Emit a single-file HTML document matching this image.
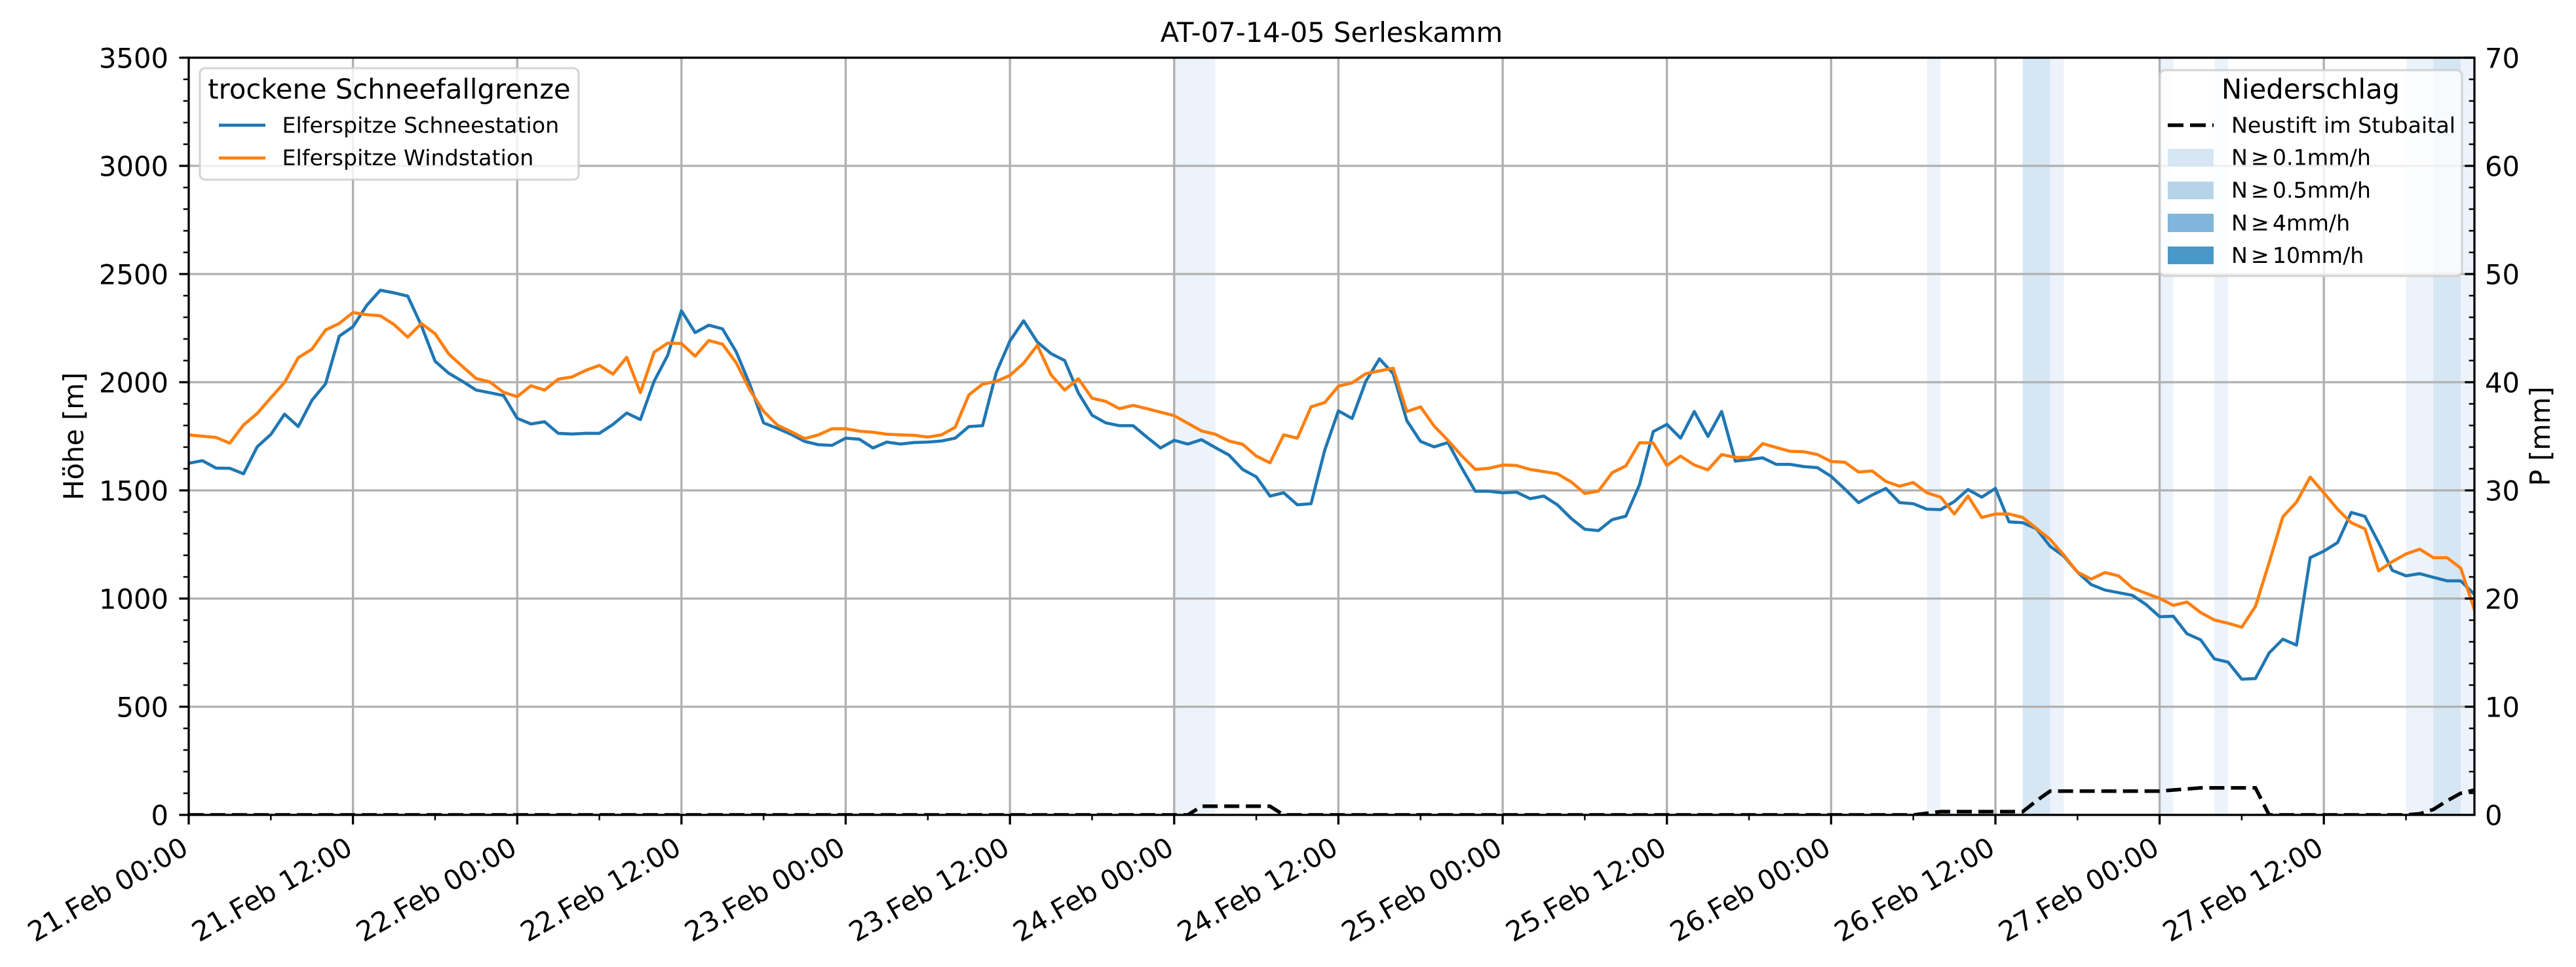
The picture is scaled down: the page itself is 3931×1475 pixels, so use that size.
<!DOCTYPE html>
<html><head><meta charset="utf-8"><style>
html,body{margin:0;padding:0;background:#fff;}
svg{display:block;}
text{font-family:"DejaVu Sans","Liberation Sans",sans-serif;fill:#000;}
</style></head><body>
<svg width="3931" height="1475" viewBox="0 0 3931 1475" xmlns="http://www.w3.org/2000/svg">
<defs><clipPath id="c"><rect x="288" y="88" width="3488" height="1155"/></clipPath></defs>
<rect width="3931" height="1475" fill="#fff"/>

<!-- precipitation bands -->
<g>
<rect x="1791.8" y="88" width="62.7" height="1155" fill="#edf3fb"/>
<rect x="2940.6" y="88" width="20.9" height="1155" fill="#edf3fb"/>
<rect x="3086.8" y="88" width="41.7" height="1155" fill="#d6e6f3"/>
<rect x="3128.5" y="88" width="20.9" height="1155" fill="#edf3fb"/>
<rect x="3295.6" y="88" width="20.9" height="1155" fill="#edf3fb"/>
<rect x="3379.1" y="88" width="20.9" height="1155" fill="#edf3fb"/>
<rect x="3671.6" y="88" width="41.7" height="1155" fill="#edf3fb"/>
<rect x="3713.3" y="88" width="41.8" height="1155" fill="#d6e6f3"/>
<rect x="3755.1" y="88" width="20.9" height="1155" fill="#edf3fb"/>
</g>

<!-- grid -->
<path d="M538.6 88V1243M789.3 88V1243M1039.9 88V1243M1290.5 88V1243M1541.2 88V1243M1791.8 88V1243M2042.4 88V1243M2293.1 88V1243M2543.7 88V1243M2794.3 88V1243M3045 88V1243M3295.6 88V1243M3546.2 88V1243M288 253H3776M288 418H3776M288 583H3776M288 748H3776M288 913H3776M288 1078H3776" stroke="#b0b0b0" stroke-width="3.33" fill="none"/>

<!-- series -->
<g clip-path="url(#c)">
<g transform="translate(288,400) scale(20.8862,0.333333)">
<polyline vector-effect="non-scaling-stroke" fill="none" stroke="#1f77b4" stroke-width="4.7" stroke-linejoin="round" stroke-linecap="square" points="0,920 1,908 2,942 3,943 4,968 5,845 6,788 7,695 8,752 9,632 10,556 11,338 12,295 13,198 14,128 15,140 16,155 17,290 18,453 19,508 20,545 21,585 22,597 23,610 24,714 25,740 26,730 27,783 28,786 29,783 30,783 31,742 32,690 33,720 34,545 35,425 36,222 37,322 38,288 39,305 40,410 41,560 42,735 43,760 44,787 45,820 46,835 47,838 48,805 49,810 50,850 51,823 52,832 53,825 54,823 55,818 56,805 57,752 58,748 59,505 60,360 61,268 62,365 63,418 64,450 65,598 66,700 67,735 68,748 69,748 70,800 71,850 72,815 73,832 74,812 75,848 76,882 77,948 78,982 79,1070 80,1055 81,1110 82,1105 83,860 84,680 85,715 86,545 87,442 88,510 89,725 90,820 91,845 92,825 93,940 94,1048 95,1048 96,1055 97,1052 98,1082 99,1070 100,1110 101,1172 102,1222 103,1228 104,1178 105,1162 106,1018 107,775 108,742 109,805 110,683 111,797 112,683 113,910 114,903 115,895 116,925 117,925 118,935 119,940 120,980 121,1038 122,1100 123,1065 124,1035 125,1100 126,1105 127,1130 128,1132 129,1095 130,1040 131,1075 132,1035 133,1188 134,1192 135,1220 136,1300 137,1345 138,1418 139,1475 140,1500 141,1512 142,1524 143,1566 144,1622 145,1620 146,1700 147,1728 148,1815 149,1830 150,1908 151,1905 152,1788 153,1725 154,1752 155,1352 156,1322 157,1283 158,1145 159,1163 160,1283 161,1410 162,1435 163,1425 164,1442 165,1458 166,1458 167,1520"/>
<polyline vector-effect="non-scaling-stroke" fill="none" stroke="#ff7f0e" stroke-width="4.7" stroke-linejoin="round" stroke-linecap="square" points="0,790 1,796 2,802 3,828 4,745 5,692 6,620 7,550 8,437 9,398 10,310 11,280 12,230 13,240 14,245 15,285 16,343 17,280 18,327 19,420 20,477 21,532 22,548 23,595 24,615 25,565 26,585 27,535 28,525 29,495 30,472 31,512 32,435 33,597 34,412 35,370 36,372 37,430 38,358 39,375 40,460 41,585 42,682 43,745 44,775 45,807 46,790 47,762 48,762 49,773 50,778 51,787 52,790 53,792 54,800 55,790 56,755 57,607 58,558 59,545 60,518 61,462 62,380 63,515 64,585 65,533 66,622 67,637 68,670 69,655 70,670 71,686 72,702 73,737 74,772 75,787 76,818 77,833 78,887 79,918 80,790 81,805 82,662 83,642 84,567 85,552 86,510 87,497 88,485 89,683 90,662 91,750 92,815 93,885 94,948 95,943 96,928 97,930 98,948 99,958 100,968 101,1005 102,1058 103,1047 104,963 105,932 106,826 107,827 108,930 109,887 110,928 111,950 112,880 113,893 114,893 115,830 116,848 117,865 118,867 119,880 120,912 121,915 122,960 123,955 124,1003 125,1025 126,1008 127,1055 128,1075 129,1152 130,1070 131,1168 132,1152 133,1152 134,1168 135,1218 136,1268 137,1340 138,1418 139,1450 140,1420 141,1435 142,1490 143,1515 144,1538 145,1570 146,1555 147,1603 148,1637 149,1652 150,1670 151,1575 152,1375 153,1165 154,1098 155,983 156,1055 157,1130 158,1192 159,1220 160,1412 161,1370 162,1335 163,1313 164,1352 165,1352 166,1400 167,1590"/>
</g>
<polyline fill="none" stroke="#000" stroke-width="5.5" stroke-dasharray="23 10" points="288,1243 1812.7,1243 1833.6,1229.8 1938,1229.8 1958.9,1243 2919.7,1243 2940.6,1240.5 2961.4,1238 3086.8,1238 3107.6,1221.5 3128.5,1206.7 3295.6,1206.7 3316.5,1205 3337.4,1203.4 3358.3,1201.7 3441.8,1201.7 3462.7,1243 3671.6,1243 3692.5,1241.3 3713.3,1234.7 3734.2,1221.5 3755.1,1210 3776,1205"/>
</g>

<!-- spines -->
<rect x="288" y="88" width="3488" height="1155" fill="none" stroke="#000" stroke-width="3.33"/>

<!-- ticks -->
<path d="M273.4 88H288M273.4 253H288M273.4 418H288M273.4 583H288M273.4 748H288M273.4 913H288M273.4 1078H288M273.4 1243H288M3761.4 88H3776M3761.4 253H3776M3761.4 418H3776M3761.4 583H3776M3761.4 748H3776M3761.4 913H3776M3761.4 1078H3776M288 1243V1257.6M538.6 1243V1257.6M789.3 1243V1257.6M1039.9 1243V1257.6M1290.5 1243V1257.6M1541.2 1243V1257.6M1791.8 1243V1257.6M2042.4 1243V1257.6M2293.1 1243V1257.6M2543.7 1243V1257.6M2794.3 1243V1257.6M3045 1243V1257.6M3295.6 1243V1257.6M3546.2 1243V1257.6" stroke="#000" stroke-width="3.33" fill="none"/>
<path d="M279.7 1210H288M279.7 1177H288M279.7 1144H288M279.7 1111H288M279.7 1045H288M279.7 1012H288M279.7 979H288M279.7 946H288M279.7 880H288M279.7 847H288M279.7 814H288M279.7 781H288M279.7 715H288M279.7 682H288M279.7 649H288M279.7 616H288M279.7 550H288M279.7 517H288M279.7 484H288M279.7 451H288M279.7 385H288M279.7 352H288M279.7 319H288M279.7 286H288M279.7 220H288M279.7 187H288M279.7 154H288M279.7 121H288
M3767.7 1210H3776M3767.7 1177H3776M3767.7 1144H3776M3767.7 1111H3776M3767.7 1045H3776M3767.7 1012H3776M3767.7 979H3776M3767.7 946H3776M3767.7 880H3776M3767.7 847H3776M3767.7 814H3776M3767.7 781H3776M3767.7 715H3776M3767.7 682H3776M3767.7 649H3776M3767.7 616H3776M3767.7 550H3776M3767.7 517H3776M3767.7 484H3776M3767.7 451H3776M3767.7 385H3776M3767.7 352H3776M3767.7 319H3776M3767.7 286H3776M3767.7 220H3776M3767.7 187H3776M3767.7 154H3776M3767.7 121H3776
M413.3 1243V1251.3M663.9 1243V1251.3M914.6 1243V1251.3M1165.2 1243V1251.3M1415.9 1243V1251.3M1666.5 1243V1251.3M1917.1 1243V1251.3M2167.8 1243V1251.3M2418.4 1243V1251.3M2669 1243V1251.3M2919.7 1243V1251.3M3170.3 1243V1251.3M3420.9 1243V1251.3M3671.6 1243V1251.3" stroke="#000" stroke-width="2.5" fill="none"/>

<!-- left legend -->
<rect x="305" y="104" width="578" height="170" rx="8" ry="8" fill="#fff" fill-opacity="0.8" stroke="#cccccc" stroke-opacity="0.8" stroke-width="3.33"/>
<text x="594" y="150.7" font-size="41.67" text-anchor="middle">trockene Schneefallgrenze</text>
<path d="M334 191H405" stroke="#1f77b4" stroke-width="4.7"/>
<path d="M334 241H405" stroke="#ff7f0e" stroke-width="4.7"/>
<text x="430.5" y="202.5" font-size="33.3">Elferspitze Schneestation</text>
<text x="430.5" y="252" font-size="33.3">Elferspitze Windstation</text>

<!-- right legend -->
<rect x="3296" y="107" width="461" height="314" rx="8" ry="8" fill="#fff" fill-opacity="0.8" stroke="#cccccc" stroke-opacity="0.8" stroke-width="3.33"/>
<text x="3526" y="150.7" font-size="41.67" text-anchor="middle">Niederschlag</text>
<path d="M3308 191H3378" stroke="#000" stroke-width="5.5" stroke-dasharray="24 10"/>
<text x="3405" y="202.5" font-size="33.3">Neustift im Stubaital</text>
<rect x="3308" y="227" width="70" height="27" fill="#d6e6f4"/>
<rect x="3308" y="277" width="70" height="27" fill="#b6d4e9"/>
<rect x="3308" y="326" width="70" height="28" fill="#80b6d9"/>
<rect x="3308" y="376" width="70" height="27" fill="#4a98c9"/>
<text x="3405" y="251.5" font-size="33.3">N<tspan dx="5">≥</tspan><tspan dx="5">0.1mm/h</tspan></text>
<text x="3405" y="301.5" font-size="33.3">N<tspan dx="5">≥</tspan><tspan dx="5">0.5mm/h</tspan></text>
<text x="3405" y="351.5" font-size="33.3">N<tspan dx="5">≥</tspan><tspan dx="5">4mm/h</tspan></text>
<text x="3405" y="401" font-size="33.3">N<tspan dx="5">≥</tspan><tspan dx="5">10mm/h</tspan></text>

<!-- title -->
<text x="2032" y="64" font-size="41.67" text-anchor="middle">AT-07-14-05 Serleskamm</text>

<!-- left y tick labels -->
<g font-size="41.67" text-anchor="end">
<text x="257" y="1258.5">0</text>
<text x="257" y="1093.5">500</text>
<text x="257" y="928.5">1000</text>
<text x="257" y="763.5">1500</text>
<text x="257" y="598.5">2000</text>
<text x="257" y="433.5">2500</text>
<text x="257" y="268.5">3000</text>
<text x="257" y="103.5">3500</text>
</g>
<!-- right y tick labels -->
<g font-size="41.67">
<text x="3792" y="1258.5">0</text>
<text x="3792" y="1093.5">10</text>
<text x="3792" y="928.5">20</text>
<text x="3792" y="763.5">30</text>
<text x="3792" y="598.5">40</text>
<text x="3792" y="433.5">50</text>
<text x="3792" y="268.5">60</text>
<text x="3792" y="103.5">70</text>
</g>

<!-- axis labels -->
<text transform="translate(127,665.5) rotate(-90)" font-size="41.67" text-anchor="middle">Höhe [m]</text>
<text transform="translate(3891,665.5) rotate(-90)" font-size="41.67" text-anchor="middle">P [mm]</text>

<!-- x tick labels -->
<g font-size="41.67" text-anchor="end">
<text transform="translate(290,1301) rotate(-30)">21.Feb 00:00</text>
<text transform="translate(540.6,1301) rotate(-30)">21.Feb 12:00</text>
<text transform="translate(791.3,1301) rotate(-30)">22.Feb 00:00</text>
<text transform="translate(1041.9,1301) rotate(-30)">22.Feb 12:00</text>
<text transform="translate(1292.5,1301) rotate(-30)">23.Feb 00:00</text>
<text transform="translate(1543.2,1301) rotate(-30)">23.Feb 12:00</text>
<text transform="translate(1793.8,1301) rotate(-30)">24.Feb 00:00</text>
<text transform="translate(2044.4,1301) rotate(-30)">24.Feb 12:00</text>
<text transform="translate(2295.1,1301) rotate(-30)">25.Feb 00:00</text>
<text transform="translate(2545.7,1301) rotate(-30)">25.Feb 12:00</text>
<text transform="translate(2796.3,1301) rotate(-30)">26.Feb 00:00</text>
<text transform="translate(3047,1301) rotate(-30)">26.Feb 12:00</text>
<text transform="translate(3297.6,1301) rotate(-30)">27.Feb 00:00</text>
<text transform="translate(3548.2,1301) rotate(-30)">27.Feb 12:00</text>
</g>
</svg>
</body></html>
